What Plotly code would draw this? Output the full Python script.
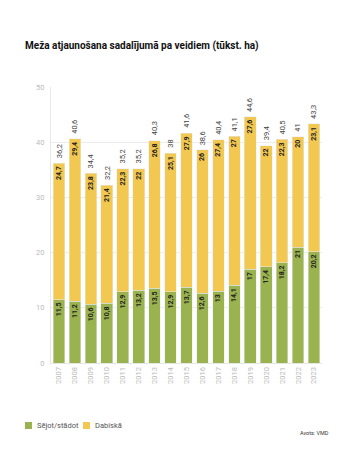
import plotly.graph_objects as go

years = [str(y) for y in range(2007, 2024)]
sejot = [11.5, 11.2, 10.6, 10.8, 12.9, 13.2, 13.5, 12.9, 13.7, 12.6, 13, 14.1, 17, 17.4, 18.2, 21, 20.2]
dabiska = [24.7, 29.4, 23.8, 21.4, 22.3, 22, 26.8, 25.1, 27.9, 26, 27.4, 27, 27.6, 22, 22.3, 20, 23.1]
totals = [36.2, 40.6, 34.4, 32.2, 35.2, 35.2, 40.3, 38, 41.6, 38.6, 40.4, 41.1, 44.6, 39.4, 40.5, 41, 43.3]
yticks = [0, 10, 20, 30, 40, 50]
series_names = ["Sējot/stādot", "Dabiskā"]

def fmt(v):
    return ("%g" % v).replace(".", ",")

FONT = "Roboto, sans-serif"
GREEN = "#9bb34f"
YELLOW = "#f2c851"
OFF = 8  # page body margin
W, H = 356 - OFF, 471 - OFF
ML, MR, MT, MB = 51 - OFF, 34, 87 - OFF, 108
PW, PH = W - ML - MR, H - MT - MB

def px(xpage):
    return (xpage - OFF - ML) / PW

def py(ypage):
    return (H - MB - (ypage - OFF)) / PH

fig = go.Figure()
fig.add_trace(go.Bar(
    x=years, y=sejot, name=series_names[0], marker_color=GREEN,
    text=["<b>" + fmt(v) + "</b>" for v in sejot], textposition="inside", insidetextanchor="end",
    textangle=-90, textfont=dict(color="#222", size=7, family=FONT),
))
fig.add_trace(go.Bar(
    x=years, y=dabiska, name=series_names[1], marker_color=YELLOW,
    text=["<b>" + fmt(v) + "</b>" for v in dabiska], textposition="inside", insidetextanchor="end",
    textangle=-90, textfont=dict(color="#222", size=7, family=FONT),
))

for i, t in enumerate(totals):
    fig.add_annotation(x=i, y=t, text=fmt(t), textangle=-90, showarrow=False,
                       yanchor="bottom", yshift=3, font=dict(size=7.5, color="#444", family=FONT))

# manual legend
leg = [(series_names[0], GREEN, 25), (series_names[1], YELLOW, 83)]
for name, col, x0 in leg:
    fig.add_shape(type="rect", xref="paper", yref="paper",
                  x0=px(x0), x1=px(x0 + 7), y0=py(429), y1=py(422),
                  fillcolor=col, line=dict(width=0))
    fig.add_annotation(xref="paper", yref="paper", x=px(x0 + 10), y=py(425.5),
                       xanchor="left", yanchor="middle", text=name, showarrow=False,
                       font=dict(size=7.5, color="#555", family=FONT))

fig.add_annotation(xref="paper", yref="paper", x=px(331), y=py(433), xanchor="right",
                   yanchor="middle", text="Avots: VMD", showarrow=False,
                   font=dict(size=5.5, color="#333", family=FONT))

fig.update_layout(
    width=W, height=H,
    barmode="stack", bargap=0.27,
    margin=dict(l=ML, r=MR, t=MT, b=MB),
    paper_bgcolor="white", plot_bgcolor="white",
    font=dict(family=FONT),
    title=dict(text="<b>Meža atjaunošana sadalījumā pa veidiem (tūkst. ha)</b>",
               x=(25 - OFF) / W, xanchor="left", y=1 - (45 - OFF) / H, yanchor="middle",
               font=dict(size=10, color="#111", family=FONT)),
    showlegend=False,
    uniformtext=dict(mode="show", minsize=7),
)
fig.update_yaxes(range=[0, 50], tickvals=yticks, showgrid=True, gridcolor="#ececec",
                 zeroline=False, tickfont=dict(size=7.5, color="#bbb"), ticks="",
                 showline=True, linecolor="#e8e8e8", ticklabelstandoff=4)
fig.update_xaxes(type="category", range=[-0.5, len(years) - 0.5], tickangle=-90,
                 tickfont=dict(size=7.5, color="#bbb"),
                 showline=True, linecolor="#e6e6e6", ticks="")

fig.write_html("out.html")
